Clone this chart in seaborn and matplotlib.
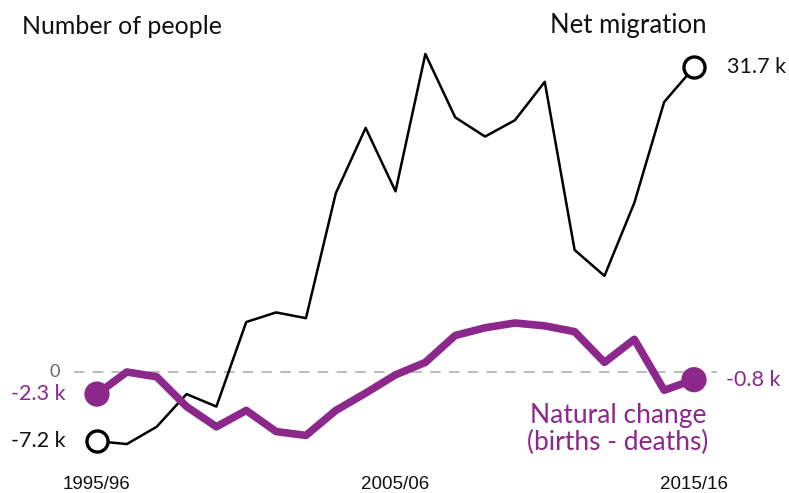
import matplotlib
matplotlib.use("Agg")
import matplotlib.pyplot as plt
import seaborn as sns
import pandas as pd
import numpy as np

years = ["1995/96", "1996/97", "1997/98", "1998/99", "1999/00", "2000/01", "2001/02",
         "2002/03", "2003/04", "2004/05", "2005/06", "2006/07", "2007/08", "2008/09",
         "2009/10", "2010/11", "2011/12", "2012/13", "2013/14", "2014/15", "2015/16"]
net_migration = [-7.2, -7.5, -5.7, -2.3, -3.6, 5.2, 6.2, 5.6, 18.6, 25.4, 18.8,
                 33.1, 26.5, 24.5, 26.2, 30.2, 12.7, 10.0, 17.6, 28.1, 31.7]
natural_change = [-2.3, 0.0, -0.5, -3.6, -5.7, -4.0, -6.2, -6.6, -4.0, -2.2, -0.3,
                  1.0, 3.8, 4.6, 5.1, 4.8, 4.2, 1.0, 3.4, -1.9, -0.8]
tick_labels = ["1995/96", "2005/06", "2015/16"]

PURPLE = "#8c278c"

sns.set_theme(style="white")
plt.rcParams["font.family"] = ["Lato", "DejaVu Sans"]

df = pd.DataFrame({"i": np.arange(len(years)), "year": years,
                   "net": net_migration, "nat": natural_change})

fig = plt.figure(figsize=(7.89, 4.93), dpi=100)
ax = fig.add_axes([74 / 789, 1 - 465 / 493, 643 / 789, 420 / 493])

ax.axhline(0, color="#bdbdbd", lw=1.5, ls=(0, (5, 4)), zorder=1)

sns.lineplot(data=df, x="i", y="net", ax=ax, color="black", lw=1.8, zorder=3)
sns.lineplot(data=df, x="i", y="nat", ax=ax, color=PURPLE, lw=5.5, zorder=4)

ends = df.iloc[[0, -1]]
ax.scatter(ends["i"], ends["net"], s=230, facecolor="white", edgecolor="black",
           linewidth=2.4, zorder=5)
ax.scatter(ends["i"], ends["nat"], s=330, facecolor=PURPLE, edgecolor="none", zorder=6)

ax.set_xlim(-0.77, 20.77)
ax.set_ylim(-9.68, 34.03)

ax.set_xticks([years.index(t) for t in tick_labels])
ax.set_xticklabels(tick_labels, fontfamily="Liberation Sans", fontsize=13.5, color="#111111")
ax.tick_params(axis="x", length=0, pad=8)
ax.set_yticks([])
ax.set_xlabel("")
ax.set_ylabel("")
for s in ax.spines.values():
    s.set_visible(False)

def fmt(v):
    return f"{v:.1f} k"

lab_fs = 15.5
ax.annotate(fmt(net_migration[0]), (0, net_migration[0]), xytext=(-22.5, 0),
            textcoords="offset points", ha="right", va="center", fontsize=lab_fs, color="#111111")
ax.annotate(fmt(net_migration[-1]), (20, net_migration[-1]), xytext=(23.5, 0),
            textcoords="offset points", ha="left", va="center", fontsize=lab_fs, color="#111111")
ax.annotate(fmt(natural_change[0]), (0, natural_change[0]), xytext=(-22.5, 0),
            textcoords="offset points", ha="right", va="center", fontsize=lab_fs, color=PURPLE)
ax.annotate(fmt(natural_change[-1]), (20, natural_change[-1]), xytext=(23, 0),
            textcoords="offset points", ha="left", va="center", fontsize=lab_fs, color=PURPLE)
ax.annotate("0", (-0.77, 0), xytext=(-10, 0), textcoords="offset points",
            ha="right", va="center", fontsize=13, color="#666666")

fig.text(22 / 789, 1 - 27 / 493, "Number of people", ha="left", va="center",
         fontsize=18, color="#111111")
fig.text(707 / 789, 1 - 25 / 493, "Net migration", ha="right", va="center",
         fontsize=18.5, color="#111111")
fig.text(618 / 789, 1 - 429 / 493, "Natural change\n(births - deaths)", ha="center",
         va="center", fontsize=19, color=PURPLE, linespacing=1.1)

fig.savefig("out.png", dpi=100, facecolor="white")
